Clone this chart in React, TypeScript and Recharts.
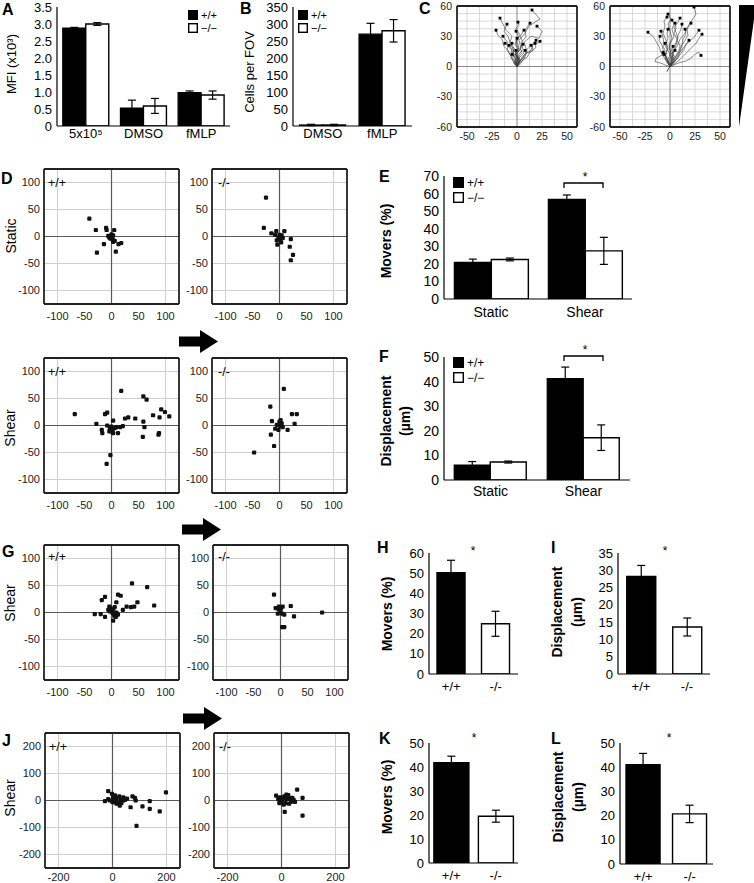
import React from "react";
import {
  BarChart,
  Bar,
  XAxis,
  YAxis,
  ErrorBar,
  Cell,
  ScatterChart,
  Scatter,
  LineChart,
  Line,
  ReferenceLine,
} from "recharts";

const FONT = '"Liberation Sans", Arial, Helvetica, sans-serif';

// ---- A: MFI ----
const aCats = ["5x10⁵", "DMSO", "fMLP"];
const aWt = [2.88, 0.53, 0.98];
const aWtErr = [0.02, 0.23, 0.05];
const aKo = [3.0, 0.59, 0.91];
const aKoErr = [0.04, 0.22, 0.12];
const aTicks = [0, 0.5, 1, 1.5, 2, 2.5, 3, 3.5];

// ---- B: cells per FOV ----
const bCats = ["DMSO", "fMLP"];
const bWt = [3, 270];
const bWtErr = [2, 32];
const bKo = [3, 280];
const bKoErr = [2, 33];
const bTicks = [0, 50, 100, 150, 200, 250, 300, 350];

// ---- C: chemotaxis tracks (x, y in µm) ----
const cWtTracks = [
  [[0, 0], [2, 6], [-1, 12], [4, 18], [2, 26], [8, 33], [12, 40], [18, 44], [23, 47], [15, 56]],
  [[0, 0], [-2, 5], [1, 11], [-4, 17], [-7, 24], [-5, 30], [-11, 36], [-14, 42], [-17, 48]],
  [[0, 0], [1, 7], [-2, 13], [2, 19], [-1, 26], [3, 31], [-1, 38], [2, 41], [1, 44]],
  [[0, 0], [3, 5], [1, 11], [6, 17], [4, 24], [9, 29], [8, 36], [13, 43]],
  [[0, 0], [2, 6], [-1, 12], [3, 17], [6, 24], [3, 30], [7, 36]],
  [[0, 0], [-2, 4], [0, 9], [-4, 13], [-3, 18], [-6, 21], [-5, 23]],
  [[0, 0], [-3, 4], [-1, 9], [-6, 13], [-5, 17], [-8, 21]],
  [[0, 0], [3, 4], [7, 7], [9, 13], [14, 15], [19, 19], [18, 22], [23, 25]],
  [[0, 0], [2, 5], [6, 8], [9, 13], [14, 16], [15, 20], [18, 23]],
  [[0, 0], [2, 4], [5, 9], [8, 12], [10, 17], [14, 21]],
  [[0, 0], [2, 3], [1, 8], [5, 11], [8, 16]],
  [[0, 0], [-1, 4], [1, 8], [-2, 12], [-1, 16]],
  [[0, 0], [-2, 5], [-6, 10], [-9, 16], [-13, 20], [-15, 27], [-19, 31], [-21, 36]],
  [[0, 0], [-3, 3], [-5, 8], [-7, 12], [-10, 16], [-9, 20], [-12, 23]],
  [[0, 0], [-1, 6], [-4, 11], [-3, 18], [-7, 24], [-9, 30], [-13, 35], [-10, 42]],
  [[0, 0], [1, 5], [0, 11], [2, 17], [-1, 23], [2, 29], [-1, 35]],
  [[0, 0], [-1, 3], [1, 7], [-1, 12], [1, 17], [-2, 22], [0, 28]],
  [[0, 0], [1, 3], [3, 6], [2, 10], [5, 14], [3, 18], [6, 22]],
  [[0, 0], [-2, 2], [-3, 5], [-6, 8], [-4, 10], [-5, 12]],
  [[0, 0], [4, 3], [6, 7], [10, 9], [12, 13], [16, 16], [15, 21], [19, 26]],
  [[0, 0], [0, 5], [-3, 10], [-5, 16], [-9, 20], [-10, 25], [-14, 30]],
  [[0, 0], [5, 8], [10, 15], [7, 24], [14, 30], [22, 28], [25, 35], [20, 40]],
];
const cKoTracks = [
  [[0, 0], [3, 6], [2, 13], [7, 20], [10, 27], [15, 33], [18, 40], [22, 46], [26, 52], [24, 59]],
  [[0, 0], [-2, 7], [1, 14], [-1, 21], [2, 28], [0, 35], [-2, 42], [1, 47], [-2, 52]],
  [[0, 0], [-2, 5], [-5, 11], [-2, 18], [-4, 26], [-7, 33], [-5, 40], [-6, 45], [-3, 49]],
  [[0, 0], [-3, 4], [-6, 9], [-9, 14], [-11, 20], [-14, 25], [-17, 30], [-20, 32], [-22, 34]],
  [[0, 0], [1, 6], [2, 12], [-1, 18], [1, 24], [4, 30], [2, 37], [4, 42], [2, 46]],
  [[0, 0], [3, 5], [4, 10], [2, 16], [5, 21], [7, 27], [4, 33], [6, 38], [5, 43]],
  [[0, 0], [3, 5], [6, 11], [9, 16], [10, 21], [7, 26], [8, 31], [11, 37], [12, 42]],
  [[0, 0], [4, 4], [8, 9], [10, 15], [12, 21], [15, 26], [18, 31], [17, 37], [21, 43]],
  [[0, 0], [3, 4], [5, 8], [8, 13], [10, 17], [12, 22], [13, 27], [16, 32], [15, 37]],
  [[0, 0], [5, 3], [10, 7], [14, 11], [18, 15], [22, 19], [26, 23], [29, 28], [32, 32]],
  [[0, 0], [5, 2], [10, 4], [15, 5], [19, 7], [23, 10], [26, 13], [29, 14], [31, 11]],
  [[0, 0], [-1, 5], [1, 10], [-2, 16], [-4, 22], [-2, 29], [-3, 33], [-2, 37]],
  [[0, 0], [-2, 6], [-4, 11], [-3, 17], [-6, 23], [-7, 29], [-9, 35]],
  [[0, 0], [-2, 4], [-3, 8], [-6, 12], [-5, 16], [-7, 20], [-5, 23]],
  [[0, 0], [-2, 3], [-4, 6], [-5, 10], [-7, 14]],
  [[0, 0], [1, 3], [2, 6], [4, 10], [3, 13], [5, 16]],
  [[0, 0], [-3, 6], [-5, 13], [-7, 17], [-8, 21], [-11, 26], [-10, 30]],
  [[0, 0], [4, 4], [8, 9], [11, 13], [14, 17], [16, 22], [19, 26]],
  [[0, 0], [5, 6], [9, 13], [13, 18], [17, 23], [21, 26], [24, 29], [27, 33], [29, 36]],
  [[0, 0], [-4, 1], [-8, 3], [-12, 4], [-15, 5], [-14, 8], [-12, 9], [-9, 11], [-6, 12]],
  [[0, 0], [2, 7], [3, 14], [6, 21], [8, 28], [6, 34], [4, 39], [8, 44], [10, 48]],
  [[0, 0], [-2, -3], [-3, -5], [0, 0], [2, 4], [1, 9], [0, 14], [3, 20]],
];
const cTicksX = [-50, -25, 0, 25, 50];
const cTicksY = [-60, -30, 0, 30, 60];
const cGridX = [-50, -37.5, -25, -12.5, 12.5, 25, 37.5, 50];
const cGridY = [-52.5, -45, -37.5, -30, -22.5, -15, -7.5, 7.5, 15, 22.5, 30, 37.5, 45, 52.5];

// ---- D: static / shear displacement (µm) ----
const dStaticWt = [
  [-41, 33], [-29, 12], [-10, 16], [-9, 12], [-14, -14], [-27, -30], [-6, 1], [-3, 0],
  [0, 4], [3, 2], [5, 12], [2, -5], [-2, -4], [6, -8], [3, -10], [8, -28], [13, -14],
  [18, -12], [-4, -2], [1, -2],
];
const dStaticKo = [
  [-25, 72], [-29, 16], [-15, 6], [-6, 10], [9, 10], [-2, -2], [1, -5], [-4, -15],
  [21, -5], [19, -19], [25, -34], [21, -44], [4, 2], [-5, -7], [3, -11], [0, 3], [-8, 3], [6, -3],
];
const dShearWt = [
  [-68, 21], [-28, 3], [-18, -8], [-17, -14], [-12, 21], [-8, 24], [-8, 0], [-3, -5],
  [0, -2], [3, 9], [2, -8], [6, -5], [3, -14], [12, -14], [9, -3], [16, -3], [21, -1],
  [18, 64], [25, 13], [31, 15], [44, 13], [59, 54], [65, 48], [59, 7], [61, -3], [58, -21],
  [77, 19], [89, 15], [92, 30], [99, 25], [107, 17], [87, -17], [88, -14], [-2, -55],
  [-9, -71], [-4, -11], [0, -11],
];
const dShearKo = [
  [8, 68], [-17, 35], [-14, 8], [-16, -17], [-10, -38], [-47, -50], [-8, -6], [0, 7],
  [1, -1], [4, 4], [6, -3], [-5, 1], [15, -8], [23, 21], [32, 21], [28, 3], [-2, -8], [2, 10],
];
// ---- G ----
const gShearWt = [
  [-31, -3], [-20, -3], [-12, -8], [-18, 23], [-12, 29], [-4, 11], [-6, 5], [-2, 8],
  [3, 6], [6, 10], [2, -1], [-3, 2], [5, -6], [8, -8], [3, -15], [12, -4], [9, 19],
  [12, 33], [17, 31], [21, 5], [28, 11], [36, 10], [42, 11], [48, 19], [38, 54], [66, 47],
  [79, 13], [9, 0],
];
const gShearKo = [
  [-12, 33], [-9, 8], [-3, 6], [1, 8], [4, 11], [-5, -2], [0, 2], [3, -2], [7, -4],
  [3, -27], [7, -27], [19, 12], [25, -7], [-3, 11], [77, 0],
];
// ---- J ----
const jShearWt = [
  [-28, -2], [-16, 5], [-16, 35], [-2, 25], [2, 12], [9, 19], [15, 6], [9, -6], [21, -10],
  [25, 15], [30, 2], [40, 0], [27, -19], [33, -10], [0, -6], [15, -12], [54, 7], [67, -25],
  [74, 15], [83, 10], [86, 0], [111, -22], [138, -2], [138, -31], [175, -40], [198, 30],
  [89, -94], [40, 12], [46, 2], [5, 2], [-10, 0],
];
const jShearKo = [
  [-20, 18], [-12, 5], [-5, 12], [0, -6], [5, 8], [10, 15], [15, -10], [20, 5], [25, 20],
  [-8, -10], [8, -15], [12, -42], [30, 8], [35, -5], [40, 10], [50, -5], [58, 40], [78, 10],
  [78, -56], [18, 22], [3, 3], [-3, -3], [28, -12], [45, 2],
];

// ---- E / F: movers and displacement ----
const efCats = ["Static", "Shear"];
const eWt = [20.8, 56.7];
const eWtErr = [1.9, 2.5];
const eKo = [22.5, 27.4];
const eKoErr = [0.8, 7.7];
const eTicks = [0, 10, 20, 30, 40, 50, 60, 70];
const fWt = [6.1, 41.2];
const fWtErr = [1.4, 4.7];
const fKo = [7.3, 17.2];
const fKoErr = [0.4, 5.2];
const fTicks = [0, 10, 20, 30, 40, 50];

// ---- H / I / K / L ----
const genoCats = ["+/+", "-/-"];
const hVals = [50.2, 24.9];
const hErr = [6.2, 6.2];
const hTicks = [0, 10, 20, 30, 40, 50, 60];
const iVals = [28.2, 13.6];
const iErr = [3.2, 2.6];
const iTicks = [0, 5, 10, 15, 20, 25, 30, 35];
const kVals = [41.8, 19.5];
const kErr = [2.7, 2.5];
const kTicks = [0, 10, 20, 30, 40, 50];
const lVals = [41, 20.7];
const lErr = [4.7, 3.6];
const lTicks = [0, 10, 20, 30, 40, 50];

const M_TOP = 8;
const M_RIGHT = 8;

function place(left: number, top: number, w: number, h: number, yW: number, xH: number) {
  return {
    style: { position: "absolute" as const, left: left - yW, top: top - M_TOP },
    width: yW + w + M_RIGHT,
    height: M_TOP + h + xH,
  };
}

const axisLine = { stroke: "#000", strokeWidth: 1.2 };

function PairBars(props: any) {
  const { left, top, w, h, cats, wt, wtErr, ko, koErr, ticks, fmt, fs, xMargin, gap } = props;
  const data = cats.map((c: string, i: number) => ({
    cat: c, wt: wt[i], wtErr: wtErr[i], ko: ko[i], koErr: koErr[i],
  }));
  const yW = 44;
  const xH = 26;
  const p = place(left, top, w, h, yW, xH);
  const tick = { fill: "#000", fontSize: fs, fontFamily: FONT };
  return (
    <div style={p.style}>
      <BarChart
        width={p.width}
        height={p.height}
        data={data}
        margin={{ top: M_TOP, right: M_RIGHT, bottom: 0, left: 0 }}
        barCategoryGap={gap}
        barGap={0}
      >
        <XAxis dataKey="cat" axisLine={axisLine} tickLine={false} tickSize={0} tickMargin={xMargin} height={xH} tick={tick} interval={0} />
        <YAxis
          type="number"
          domain={[0, ticks[ticks.length - 1]]}
          ticks={ticks}
          interval={0}
          allowDataOverflow
          axisLine={axisLine}
          tickLine={false}
          tickSize={0}
          tickMargin={5}
          width={yW}
          tickFormatter={fmt}
          tick={tick}
        />
        <Bar dataKey="wt" fill="#000" stroke="#000" strokeWidth={1.2} isAnimationActive={false}>
          <ErrorBar dataKey="wtErr" width={4} stroke="#000" strokeWidth={1.2} />
        </Bar>
        <Bar dataKey="ko" fill="#fff" stroke="#000" strokeWidth={1.4} isAnimationActive={false}>
          <ErrorBar dataKey="koErr" width={4} stroke="#000" strokeWidth={1.2} />
        </Bar>
      </BarChart>
    </div>
  );
}

function GenoBars(props: any) {
  const { left, top, w, h, vals, errs, ticks, gap } = props;
  const data = genoCats.map((c, i) => ({ cat: c, v: vals[i], err: errs[i] }));
  const yW = 44;
  const xH = 24;
  const p = place(left, top, w, h, yW, xH);
  const tick = { fill: "#000", fontSize: 13, fontFamily: FONT };
  return (
    <div style={p.style}>
      <BarChart
        width={p.width}
        height={p.height}
        data={data}
        margin={{ top: M_TOP, right: M_RIGHT, bottom: 0, left: 0 }}
        barCategoryGap={gap}
      >
        <XAxis dataKey="cat" axisLine={axisLine} tickLine={false} tickSize={0} tickMargin={8} height={xH} tick={tick} interval={0} />
        <YAxis
          type="number"
          domain={[0, ticks[ticks.length - 1]]}
          ticks={ticks}
          interval={0}
          allowDataOverflow
          axisLine={axisLine}
          tickLine={false}
          tickSize={0}
          tickMargin={5}
          width={yW}
          tick={tick}
        />
        <Bar dataKey="v" stroke="#000" strokeWidth={1.4} isAnimationActive={false}>
          {data.map((d, i) => (
            <Cell key={d.cat} fill={i === 0 ? "#000" : "#fff"} />
          ))}
          <ErrorBar dataKey="err" width={4} stroke="#000" strokeWidth={1.2} />
        </Bar>
      </BarChart>
    </div>
  );
}

const dotShape = (p: any) => <rect x={p.cx - 2.1} y={p.cy - 2.1} width={4.2} height={4.2} rx={1.2} fill="#111" />;

// dark box drawn on the domain edges
function frameLines(lim: number, sw: number) {
  return [
    <ReferenceLine key="fl" x={-lim} stroke="#222" strokeWidth={sw} ifOverflow="visible" />,
    <ReferenceLine key="fr" x={lim} stroke="#222" strokeWidth={sw} ifOverflow="visible" />,
    <ReferenceLine key="ft" y={lim} stroke="#222" strokeWidth={sw} ifOverflow="visible" />,
    <ReferenceLine key="fb" y={-lim} stroke="#222" strokeWidth={sw} ifOverflow="visible" />,
  ];
}

function DotPlot(props: any) {
  const { left, top, pts, lim, xTicks, yTicks, vGrid, hGrid, xMargin } = props;
  const size = 135;
  const yW = 40;
  const xH = 22;
  const p = place(left, top, size, size, yW, xH);
  const data = pts.map(([x, y]: number[]) => ({ x, y }));
  const tick = { fill: "#222", fontSize: 11, fontFamily: FONT };
  return (
    <div style={p.style}>
      <ScatterChart width={p.width} height={p.height} margin={{ top: M_TOP, right: M_RIGHT, bottom: 0, left: 0 }}>
        <XAxis type="number" dataKey="x" domain={[-lim, lim]} ticks={xTicks} interval={0} allowDataOverflow axisLine={false} tickLine={false} tickSize={0} tickMargin={xMargin} height={xH} tick={tick} />
        <YAxis type="number" dataKey="y" domain={[-lim, lim]} ticks={yTicks} interval={0} allowDataOverflow axisLine={false} tickLine={false} tickSize={0} tickMargin={4} width={yW} tick={tick} />
        {hGrid.map((v: number) => (
          <ReferenceLine key={"h" + v} y={v} stroke="#cfcfcf" strokeWidth={1} />
        ))}
        {vGrid.map((v: number) => (
          <ReferenceLine key={"v" + v} x={v} stroke="#cfcfcf" strokeWidth={1} />
        ))}
        <ReferenceLine x={0} stroke="#5a5a5a" strokeWidth={1.2} />
        <ReferenceLine y={0} stroke="#5a5a5a" strokeWidth={1.2} />
        <Scatter data={data} isAnimationActive={false} shape={dotShape} />
        {frameLines(lim, 1.8)}
      </ScatterChart>
    </div>
  );
}

function TrackPlot(props: any) {
  const { left, top, tracks } = props;
  const w = 120;
  const h = 121;
  const yW = 32;
  const xH = 20;
  const p = place(left, top, w, h, yW, xH);
  const tick = { fill: "#222", fontSize: 10.5, fontFamily: FONT };
  return (
    <div style={p.style}>
      <LineChart width={p.width} height={p.height} margin={{ top: M_TOP, right: M_RIGHT, bottom: 0, left: 0 }}>
        <XAxis type="number" dataKey="x" domain={[-60, 60]} ticks={cTicksX} interval={0} allowDataOverflow axisLine={false} tickLine={false} tickSize={0} tickMargin={6} height={xH} tick={tick} />
        <YAxis type="number" domain={[-60, 60]} ticks={cTicksY} interval={0} allowDataOverflow axisLine={false} tickLine={false} tickSize={0} tickMargin={5} width={yW} tick={tick} />
        {cGridY.map((v) => (
          <ReferenceLine key={"h" + v} y={v} stroke="#d0d0d0" strokeWidth={0.8} />
        ))}
        {cGridX.map((v) => (
          <ReferenceLine key={"v" + v} x={v} stroke="#d0d0d0" strokeWidth={0.8} />
        ))}
        <ReferenceLine x={0} stroke="#8a8a8a" strokeWidth={1} />
        <ReferenceLine y={0} stroke="#8a8a8a" strokeWidth={1} />
        {tracks.map((t: number[][], i: number) => {
          const n = t.length;
          return (
            <Line
              key={i}
              data={t.map(([x, y]) => ({ x, y }))}
              dataKey="y"
              type="linear"
              stroke="#3a3a3a"
              strokeWidth={0.6}
              activeDot={false}
              isAnimationActive={false}
              dot={(d: any) =>
                d.index === n - 1 ? (
                  <rect key={"d" + i + "-" + d.index} x={d.cx - 1.4} y={d.cy - 1.4} width={2.8} height={2.8} fill="#000" />
                ) : (
                  <g key={"d" + i + "-" + d.index} />
                )
              }
            />
          );
        })}
        {frameLines(60, 1.8)}
      </LineChart>
    </div>
  );
}

const fmtA = (v: number) => (v === 0 ? "0" : v.toFixed(1));

function Legend2({ x, y, size, fs, step }: any) {
  return (
    <g fontFamily={FONT} fontSize={fs}>
      <rect x={x} y={y} width={size} height={size} fill="#000" />
      <rect x={x + 0.7} y={y + step + 0.7} width={size - 1.4} height={size - 1.4} fill="#fff" stroke="#000" strokeWidth={1.4} />
      <text x={x + size + 3} y={y + size - 1}>+/+</text>
      <text x={x + size + 3} y={y + step + size - 1}>−/−</text>
    </g>
  );
}

function Arrow({ x, y }: any) {
  return (
    <g fill="#000">
      <rect x={x} y={y + 6.5} width={22} height={10} />
      <polygon points={`${x + 21},${y} ${x + 39},${y + 11.5} ${x + 21},${y + 23}`} />
    </g>
  );
}

function VText({ x, y, children, bold, fs }: any) {
  return (
    <text
      x={x}
      y={y}
      transform={`rotate(-90 ${x} ${y})`}
      textAnchor="middle"
      dominantBaseline="central"
      fontSize={fs}
      fontWeight={bold ? "bold" : "normal"}
    >
      {children}
    </text>
  );
}

function Overlay() {
  const letters: [string, number, number][] = [
    ["A", 2, 15], ["B", 240, 14], ["C", 419, 14], ["D", 1, 184], ["E", 379, 182],
    ["F", 379, 362], ["G", 2, 557], ["H", 377, 553], ["I", 551, 553], ["J", 2, 746],
    ["K", 379, 744], ["L", 551, 744],
  ];
  const plotTags: [string, number, number][] = [
    ["+/+", 48, 187], ["-/-", 218, 187], ["+/+", 48, 376], ["-/-", 218, 376],
    ["+/+", 48, 561], ["-/-", 218, 561], ["+/+", 49, 751], ["-/-", 219, 751],
  ];
  return (
    <svg
      width={754}
      height={883}
      style={{ position: "absolute", left: 0, top: 0, pointerEvents: "none" }}
      fontFamily={FONT}
      fill="#000"
    >
      {letters.map(([t, x, y]) => (
        <text key={t} x={x} y={y} fontSize={16} fontWeight="bold">{t}</text>
      ))}
      {plotTags.map(([t, x, y], i) => (
        <text key={i} x={x} y={y} fontSize={12.5}>{t}</text>
      ))}
      <VText x={11} y={64} fs={13}>MFI (x10³)</VText>
      <VText x={249} y={72} fs={13}>Cells per FOV</VText>
      <VText x={11} y={236} fs={14}>Static</VText>
      <VText x={10} y={428} fs={14}>Shear</VText>
      <VText x={10} y={603} fs={14}>Shear</VText>
      <VText x={10} y={798} fs={14}>Shear</VText>
      <VText x={386} y={241} fs={14} bold>Movers (%)</VText>
      <VText x={386} y={421} fs={14} bold>Displacement</VText>
      <VText x={405} y={421} fs={14} bold>(µm)</VText>
      <VText x={387} y={614} fs={14} bold>Movers (%)</VText>
      <VText x={557} y={612} fs={14} bold>Displacement</VText>
      <VText x={577} y={612} fs={14} bold>(µm)</VText>
      <VText x={387} y={797} fs={14} bold>Movers (%)</VText>
      <VText x={558} y={797} fs={14} bold>Displacement</VText>
      <VText x={578} y={797} fs={14} bold>(µm)</VText>
      <Legend2 x={188} y={10} size={10} fs={11} step={13} />
      <Legend2 x={298} y={10} size={10} fs={11} step={13} />
      <Legend2 x={453} y={177} size={11} fs={12} step={15} />
      <Legend2 x={453} y={357} size={11} fs={12} step={15} />
      <path d="M564 188 V183 H603 V188" fill="none" stroke="#000" strokeWidth={1.3} />
      <text x={585} y={181} fontSize={12} textAnchor="middle">*</text>
      <path d="M564 361 V356 H603 V361" fill="none" stroke="#000" strokeWidth={1.3} />
      <text x={585} y={354} fontSize={12} textAnchor="middle">*</text>
      <text x={473} y={555} fontSize={12} textAnchor="middle">*</text>
      <text x={665} y={555} fontSize={12} textAnchor="middle">*</text>
      <text x={474} y={742} fontSize={12} textAnchor="middle">*</text>
      <text x={669} y={742} fontSize={12} textAnchor="middle">*</text>
      <Arrow x={179} y={330} />
      <Arrow x={182} y={518} />
      <Arrow x={183} y={707} />
      <polygon points="739,5 756,5 739,127" fill="#000" />
    </svg>
  );
}

export default function App() {
  const d100 = { lim: 125, xTicks: [-100, -50, 0, 50, 100], yTicks: [-100, -50, 0, 50, 100], vGrid: [-100, 100], hGrid: [-100, -50, 50, 100], xMargin: 8 };
  const j200 = { lim: 250, xTicks: [-200, 0, 200], yTicks: [-200, -100, 0, 100, 200], vGrid: [-200, 200], hGrid: [-200, -100, 100, 200], xMargin: 5 };
  return (
    <div style={{ position: "absolute", left: 0, top: 0, width: 754, height: 883, background: "#fff", fontFamily: FONT, overflow: "hidden" }}>
      <PairBars left={57} top={7} w={173} h={119} cats={aCats} wt={aWt} wtErr={aWtErr} ko={aKo} koErr={aKoErr} ticks={aTicks} fmt={fmtA} fs={13} xMargin={3} gap="10%" />
      <PairBars left={293} top={7} w={119} h={119} cats={bCats} wt={bWt} wtErr={bWtErr} ko={bKo} koErr={bKoErr} ticks={bTicks} fs={13} xMargin={3} gap="11%" />
      <TrackPlot left={457} top={6} tracks={cWtTracks} />
      <TrackPlot left={610} top={6} tracks={cKoTracks} />

      <DotPlot left={44} top={169} pts={dStaticWt} {...d100} />
      <DotPlot left={212} top={169} pts={dStaticKo} {...d100} />
      <DotPlot left={44} top={358} pts={dShearWt} {...d100} />
      <DotPlot left={212} top={358} pts={dShearKo} {...d100} />
      <DotPlot left={44} top={545} pts={gShearWt} {...d100} />
      <DotPlot left={213} top={545} pts={gShearKo} {...d100} />
      <DotPlot left={45} top={733} pts={jShearWt} {...j200} />
      <DotPlot left={214} top={733} pts={jShearKo} {...j200} />

      <PairBars left={444} top={176} w={188} h={123} cats={efCats} wt={eWt} wtErr={eWtErr} ko={eKo} koErr={eKoErr} ticks={eTicks} fs={14} xMargin={8} gap="11%" />
      <PairBars left={444} top={357} w={186} h={123} cats={efCats} wt={fWt} wtErr={fWtErr} ko={fKo} koErr={fKoErr} ticks={fTicks} fs={14} xMargin={6} gap="11%" />

      <GenoBars left={429} top={553} w={89} h={121} vals={hVals} errs={hErr} ticks={hTicks} gap="18%" />
      <GenoBars left={618} top={553} w={92} h={121} vals={iVals} errs={iErr} ticks={iTicks} gap="19%" />
      <GenoBars left={429} top={743} w={89} h={120} vals={kVals} errs={kErr} ticks={kTicks} gap="11%" />
      <GenoBars left={620} top={743} w={93} h={121} vals={lVals} errs={lErr} ticks={lTicks} gap="13%" />

      <Overlay />
    </div>
  );
}
